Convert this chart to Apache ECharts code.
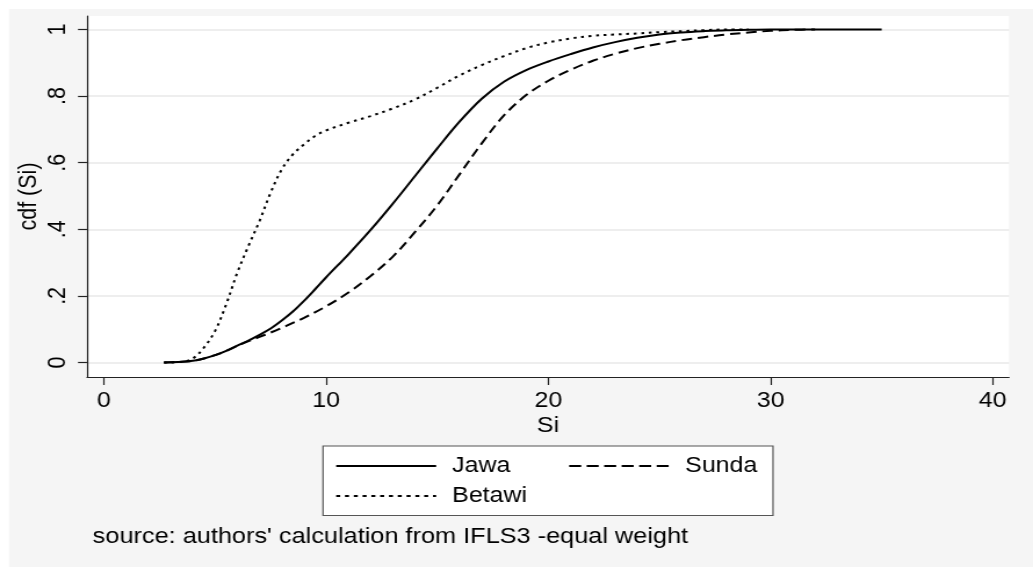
<!DOCTYPE html>
<html>
<head>
<meta charset="utf-8">
<script src="https://cdn.jsdelivr.net/npm/echarts@6/dist/echarts.min.js"></script>
<style>
html,body{margin:0;padding:0;background:#fff;overflow:hidden;}
#wrap{width:1033px;height:567px;overflow:hidden;position:relative;}
#chart{width:890px;height:567px;transform:scaleX(1.1607);transform-origin:0 0;}
</style>
</head>
<body>
<div id="wrap"><div id="chart"></div></div>
<script>
// ---- data ----
const xTicks = [0, 10, 20, 30, 40];
const yTicks = [0, 0.2, 0.4, 0.6, 0.8, 1];

const jawaX = [2.7, 3.5, 4, 4.5, 5, 5.5, 6, 6.5, 7, 7.5, 8, 8.5, 9, 9.5, 10, 11, 12, 13, 14, 15, 16, 17, 18, 19, 20, 21, 22, 23, 24, 25, 26, 27, 28, 29, 30, 35];
const jawaY = [0, 0.002, 0.005, 0.012, 0.022, 0.035, 0.051, 0.066, 0.083, 0.102, 0.126, 0.153, 0.185, 0.22, 0.256, 0.325, 0.398, 0.477, 0.56, 0.643, 0.723, 0.792, 0.843, 0.878, 0.904, 0.926, 0.946, 0.962, 0.975, 0.985, 0.991, 0.995, 0.998, 0.999, 1, 1];

const sundaX = [2.7, 3.5, 4, 4.5, 5, 5.5, 6, 6.5, 7, 7.5, 8, 8.5, 9, 10, 11, 12, 13, 14, 15, 16, 17, 18, 19, 20, 21, 22, 23, 24, 25, 26, 27, 28, 29, 30, 31, 32];
const sundaY = [0, 0.002, 0.005, 0.012, 0.022, 0.035, 0.05, 0.064, 0.077, 0.09, 0.104, 0.119, 0.134, 0.169, 0.21, 0.26, 0.318, 0.392, 0.472, 0.565, 0.658, 0.742, 0.803, 0.846, 0.879, 0.906, 0.927, 0.944, 0.957, 0.968, 0.977, 0.985, 0.991, 0.996, 0.999, 1];

const betawiX = [2.7, 3.5, 4, 4.5, 5, 5.5, 6, 6.5, 7, 7.5, 8, 8.5, 9, 9.5, 10, 11, 12, 13, 14, 15, 16, 17, 18, 19, 20, 21, 22, 23, 24, 25, 26, 27, 28, 29];
const betawiY = [0, 0.002, 0.012, 0.045, 0.095, 0.175, 0.27, 0.35, 0.425, 0.51, 0.58, 0.625, 0.655, 0.68, 0.697, 0.72, 0.74, 0.763, 0.79, 0.825, 0.862, 0.893, 0.92, 0.944, 0.961, 0.973, 0.981, 0.985, 0.988, 0.992, 0.995, 0.998, 1, 1];

const seriesNames = ['Jawa', 'Sunda', 'Betawi'];
const sourceNote = "source: authors' calculation from IFLS3 -equal weight";

// ---- layout ----
const SX = 1.1607;             // horizontal stretch of the original picture
const px = v => v / SX;        // screen x -> internal x
const FONT = '"Liberation Sans", Arial, Helvetica, sans-serif';
const FS = 21.5;

function pairs(xs, ys) { return xs.map((x, i) => [x, ys[i]]); }

const chart = echarts.init(document.getElementById('chart'), null, {renderer: 'canvas'});

const legendBase = {
  orient: 'horizontal',
  padding: 0,
  itemWidth: px(100),
  itemHeight: 14,
  selectedMode: false,
  itemStyle: {opacity: 0, borderWidth: 0},
  textStyle: {fontSize: FS, color: '#000', fontFamily: FONT, padding: [0, 0, 0, px(16) - 5]}
};

const option = {
  animation: false,
  backgroundColor: 'transparent',
  textStyle: {fontFamily: FONT},
  grid: {
    left: px(87), right: 890 - px(1009), top: 16, bottom: 190,
    show: true, backgroundColor: '#ffffff', borderWidth: 0
  },
  xAxis: {
    type: 'value', min: -0.765, max: 40.73,
    axisLine: {show: true, onZero: false, lineStyle: {color: '#222', width: 1.2}},
    axisTick: {show: true, length: 8, customValues: xTicks, lineStyle: {color: '#222', width: 1.2}},
    axisLabel: {customValues: xTicks, fontSize: FS, color: '#000', fontFamily: FONT, margin: 13},
    splitLine: {show: false},
    name: 'Si', nameLocation: 'middle', nameGap: 38, nameMoveOverlap: false,
    nameTextStyle: {fontSize: FS, color: '#000', fontFamily: FONT}
  },
  yAxis: {
    type: 'value', min: -0.0435, max: 1.0405,
    axisLine: {show: true, onZero: false, lineStyle: {color: '#222', width: 1.2}},
    axisTick: {show: true, length: px(9), customValues: yTicks, lineStyle: {color: '#222', width: 1.2}},
    axisLabel: {
      customValues: yTicks, rotate: 90, fontSize: FS, color: '#000', fontFamily: FONT, margin: 14,
      formatter: v => (v === 0 ? '0' : v === 1 ? '1' : String(+v.toFixed(1)).replace(/^0/, ''))
    },
    splitLine: {show: true, lineStyle: {color: '#e8e8e8', width: 1.5}},
    name: 'cdf (Si)', nameLocation: 'middle', nameGap: 38.5, nameMoveOverlap: false,
    nameTextStyle: {fontSize: FS, color: '#000', fontFamily: FONT}
  },
  legend: [
    Object.assign({}, legendBase, {data: [seriesNames[0]], left: px(335), top: 455}),
    Object.assign({}, legendBase, {data: [seriesNames[1]], left: px(568), top: 455,
      lineStyle: {type: [px(12), px(5.5)]}}),
    Object.assign({}, legendBase, {data: [seriesNames[2]], left: px(335), top: 485,
      lineStyle: {type: [px(4), px(4.8)]}})
  ],
  graphic: [
    {type: 'rect', z: -10, silent: true, shape: {x: px(9), y: 9, width: 900, height: 600},
      style: {fill: '#f5f5f5'}},
    {type: 'rect', z: 1, silent: true, shape: {x: px(323), y: 446, width: px(450), height: 69.5},
      style: {fill: '#ffffff', stroke: '#555', lineWidth: 1.2}},
    {type: 'text', z: 5, silent: true, left: px(92.7), top: 526,
      style: {text: sourceNote, fontSize: 21.8, fill: '#000', fontFamily: FONT}}
  ],
  series: [
    {name: seriesNames[0], type: 'line', data: pairs(jawaX, jawaY), symbol: 'none', showSymbol: false,
      smooth: 0.35, z: 4, lineStyle: {color: '#000', width: 2, type: 'solid'}, itemStyle: {color: '#000'}},
    {name: seriesNames[1], type: 'line', data: pairs(sundaX, sundaY), symbol: 'none', showSymbol: false,
      smooth: 0.35, z: 3, lineStyle: {color: '#000', width: 2, type: [9, 5]}, itemStyle: {color: '#000'}},
    {name: seriesNames[2], type: 'line', data: pairs(betawiX, betawiY), symbol: 'none', showSymbol: false,
      smooth: 0.35, z: 3, lineStyle: {color: '#000', width: 2, type: [2.5, 4]}, itemStyle: {color: '#000'}}
  ]
};

chart.setOption(option);
</script>
</body>
</html>
